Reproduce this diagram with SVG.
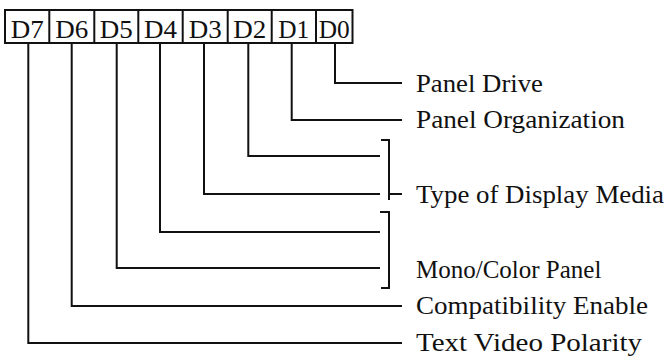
<svg xmlns="http://www.w3.org/2000/svg" width="670" height="356" viewBox="0 0 670 356">
<style>
.ln{fill:none;stroke:#111;stroke-width:2;stroke-linecap:square}
.cell{fill:#fff;stroke:#111;stroke-width:2}
.t{font-family:"Liberation Serif","Times New Roman",serif;font-size:25px;fill:#111}
.c{text-anchor:middle}
</style>
<rect width="670" height="356" fill="#fff"/>
<g id="register">
<rect class="cell" x="5" y="10" width="347.5" height="33"/>
<path class="ln" d="M49.3 10V43M94.3 10V43M138.3 10V43M182.7 10V43M227.7 10V43M271.7 10V43M316 10V43"/>
<text class="t c" x="27.2" y="37.5" textLength="33" lengthAdjust="spacingAndGlyphs">D7</text>
<text class="t c" x="71.8" y="37.5" textLength="33" lengthAdjust="spacingAndGlyphs">D6</text>
<text class="t c" x="116.3" y="37.5" textLength="33" lengthAdjust="spacingAndGlyphs">D5</text>
<text class="t c" x="160.5" y="37.5" textLength="33" lengthAdjust="spacingAndGlyphs">D4</text>
<text class="t c" x="205.2" y="37.5" textLength="33" lengthAdjust="spacingAndGlyphs">D3</text>
<text class="t c" x="249.7" y="37.5" textLength="33" lengthAdjust="spacingAndGlyphs">D2</text>
<text class="t c" x="293.8" y="37.5" textLength="31" lengthAdjust="spacingAndGlyphs">D1</text>
<text class="t c" x="334.3" y="37.5" textLength="31" lengthAdjust="spacingAndGlyphs">D0</text>
</g>
<g id="connectors">
<path class="ln" d="M335 44V83H401"/>
<path class="ln" d="M291.7 44V120H401"/>
<path class="ln" d="M248.3 44V156H379"/>
<path class="ln" d="M204 44V194H379"/>
<path class="ln" d="M160 44V232H379"/>
<path class="ln" d="M116.7 44V268H379"/>
<path class="ln" d="M71.7 44V306H401"/>
<path class="ln" d="M28.3 44V343H401"/>
<path class="ln" d="M382 140H389V199M389 194H401"/>
<path class="ln" d="M381 212H389V288H382"/>
</g>
<g id="labels">
<text id="panel-drive" class="t" x="416" y="92" textLength="127" lengthAdjust="spacingAndGlyphs">Panel Drive</text>
<text id="panel-org" class="t" x="416" y="128" textLength="209" lengthAdjust="spacingAndGlyphs">Panel Organization</text>
<text id="display-media" class="t" x="416" y="203" textLength="248" lengthAdjust="spacingAndGlyphs">Type of Display Media</text>
<text id="mono-color" class="t" x="416" y="278">Mono/Color Panel</text>
<text id="compat" class="t" x="416" y="314" textLength="232" lengthAdjust="spacingAndGlyphs">Compatibility Enable</text>
<text id="polarity" class="t" x="416" y="351" textLength="226" lengthAdjust="spacingAndGlyphs">Text Video Polarity</text>
</g>
</svg>
